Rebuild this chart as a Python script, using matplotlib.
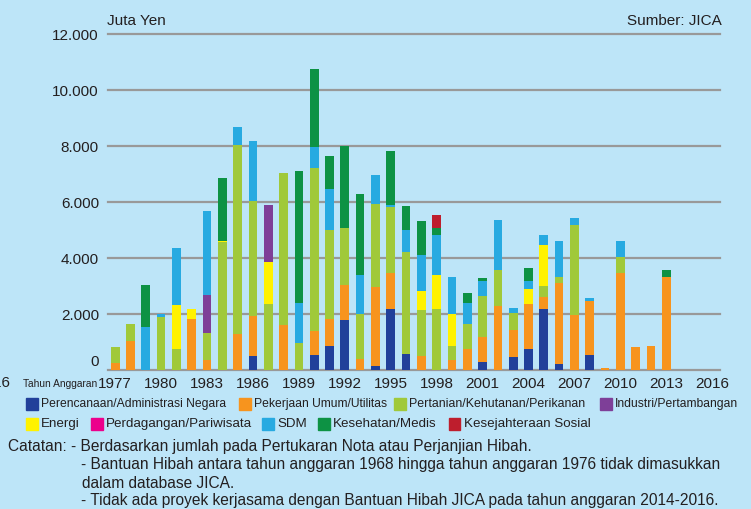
import numpy as np
import matplotlib
matplotlib.use('Agg')
from matplotlib import pyplot as plt
from matplotlib.patches import Rectangle
import matplotlib.transforms as mtransforms

plt.rcParams['font.family'] = ['Liberation Sans', 'DejaVu Sans']

years = list(range(1977, 2017))

# juta yen per sektor, 1977..2016
perencanaan = [0, 0, 0, 0, 0, 0, 0, 0, 0, 500, 0, 0, 0, 550, 870, 1800, 0, 140, 2190, 580,
               0, 0, 0, 0, 300, 0, 460, 750, 2190, 230, 0, 550, 0, 0, 0, 0, 0, 0, 0, 0]
pekerjaan = [240, 1040, 0, 0, 0, 1810, 345, 0, 1270, 1420, 0, 1600, 0, 840, 960, 1250, 380, 2830, 1260, 0,
             500, 0, 345, 740, 890, 2270, 980, 1620, 420, 2890, 1950, 1920, 70, 3480, 830, 870, 3330, 0, 0, 0]
pertanian = [590, 615, 0, 1880, 750, 0, 990, 4560, 6760, 4130, 2370, 5450, 960, 5830, 3170, 2020, 1630, 2950, 2370, 3640,
             1660, 2190, 520, 900, 1460, 1310, 610, 0, 400, 210, 3240, 0, 0, 550, 0, 0, 0, 0, 0, 0]
energi = [0, 0, 0, 0, 1580, 360, 0, 60, 0, 0, 1490, 0, 0, 0, 0, 0, 0, 0, 0, 0,
          650, 1210, 1140, 0, 0, 0, 0, 510, 1450, 0, 0, 0, 0, 0, 0, 0, 0, 0, 0, 0]
industri = [0, 0, 0, 0, 0, 0, 1360, 0, 0, 0, 2020, 0, 0, 0, 0, 0, 0, 0, 0, 0,
            0, 0, 0, 0, 0, 0, 0, 0, 0, 0, 0, 0, 0, 0, 0, 0, 0, 0, 0, 0]
perdagangan = [0] * 40
sdm = [0, 0, 1520, 130, 2020, 0, 3000, 0, 640, 2140, 0, 0, 1440, 730, 1460, 0, 1370, 1050, 60, 770,
       1300, 1430, 1330, 770, 520, 1770, 150, 310, 370, 1260, 250, 110, 0, 570, 0, 0, 0, 0, 0, 0]
kesehatan = [0, 0, 1500, 0, 0, 0, 0, 2240, 0, 0, 0, 0, 4690, 2790, 1170, 2920, 2900, 0, 1940, 850,
             1210, 240, 0, 350, 120, 0, 0, 440, 0, 0, 0, 0, 0, 0, 0, 0, 240, 0, 0, 0]
kesejahteraan = [0, 0, 0, 0, 0, 0, 0, 0, 0, 0, 0, 0, 0, 0, 0, 0, 0, 0, 0, 0,
                 0, 460, 0, 0, 0, 0, 0, 0, 0, 0, 0, 0, 0, 0, 0, 0, 0, 0, 0, 0]

labels = {
    'perencanaan': 'Perencanaan/Administrasi Negara',
    'pekerjaan': 'Pekerjaan Umum/Utilitas',
    'pertanian': 'Pertanian/Kehutanan/Perikanan',
    'industri': 'Industri/Pertambangan',
    'energi': 'Energi',
    'perdagangan': 'Perdagangan/Pariwisata',
    'sdm': 'SDM',
    'kesehatan': 'Kesehatan/Medis',
    'kesejahteraan': 'Kesejahteraan Sosial',
}
colors = {
    'perencanaan': '#21409A',
    'pekerjaan': '#F7941E',
    'pertanian': '#A0C93A',
    'industri': '#7E3F98',
    'energi': '#FFF200',
    'perdagangan': '#EC008C',
    'sdm': '#27AAE1',
    'kesehatan': '#0D9244',
    'kesejahteraan': '#BE1E2D',
}
series = {
    'perencanaan': perencanaan, 'pekerjaan': pekerjaan, 'pertanian': pertanian,
    'energi': energi, 'industri': industri, 'perdagangan': perdagangan,
    'sdm': sdm, 'kesehatan': kesehatan, 'kesejahteraan': kesejahteraan,
}

bg = '#BDE5F8'
txt = '#231F20'
W, H = 751, 509

fig = plt.figure(figsize=(7.51, 5.09), dpi=100, facecolor=bg)
ax = fig.add_axes([108 / W, (H - 370) / H, 612 / W, 336 / H])
ax.set_facecolor(bg)

# stacked bars (stack order as in the original)
bottom = np.zeros(len(years))
for key in ['perencanaan', 'pekerjaan', 'pertanian', 'energi', 'industri',
            'perdagangan', 'sdm', 'kesehatan', 'kesejahteraan']:
    vals = np.array(series[key], dtype=float)
    ax.bar(years, vals, width=0.57, bottom=bottom, color=colors[key], zorder=3)
    bottom += vals

ax.set_xlim(1976.53, 2016.51)
ax.set_ylim(0, 12000)
for s in ax.spines.values():
    s.set_visible(False)

ax.set_yticks(range(0, 12001, 2000))
ax.set_yticklabels(['0', '2.000', '4.000', '6.000', '8.000', '10.000', '12.000'])
ax.yaxis.grid(True, color='#999999', lw=1.6, zorder=0)
for gl in ax.get_ygridlines():
    gl.set_clip_on(False)
ax.tick_params(axis='y', length=0, pad=6.5, labelsize=11, labelcolor=txt)
# the "0" sits a little above the baseline
zero = ax.get_yticklabels()[0]
zero.set_transform(zero.get_transform() + mtransforms.ScaledTranslation(0, 10 / 100, fig.dpi_scale_trans))

ax.set_xticks(range(1977, 2017, 3))
ax.tick_params(axis='x', length=0, pad=5, labelsize=11, labelcolor=txt)

fig.text(107 / W, 1 - 21 / H, 'Juta Yen', fontsize=11, color=txt, va='center')
fig.text(722 / W, 1 - 21 / H, 'Sumber: JICA', fontsize=11, color=txt, va='center', ha='right')
fig.text(23 / W, 1 - 384 / H, 'Tahun Anggaran', fontsize=7.3, color=txt, va='center')
fig.text(10 / W, 1 - 383 / H, '2016', fontsize=11, color=txt, va='center', ha='right')

# legend, placed by hand: (key, x, y, fontsize)
legend_items = [
    ('perencanaan', 26, 404, 8.7), ('pekerjaan', 239, 404, 8.7), ('pertanian', 394, 404, 8.9),
    ('industri', 600, 404, 8.7),
    ('energi', 26, 424, 9.6), ('perdagangan', 91, 424, 9.6), ('sdm', 262, 424, 9.6),
    ('kesehatan', 318, 424, 9.6), ('kesejahteraan', 449, 424, 9.6),
]
sq = 11.5
for key, x, y, fs in legend_items:
    fig.add_artist(Rectangle((x / W, 1 - (y + sq / 2) / H), sq / W, sq / H,
                             transform=fig.transFigure, color=colors[key]))
    fig.text((x + sq + 3.5) / W, 1 - y / H, labels[key], fontsize=fs, color=txt, va='center')

notes = [
    (8, 447, 'Catatan: - Berdasarkan jumlah pada Pertukaran Nota atau Perjanjian Hibah.'),
    (81, 465, '- Bantuan Hibah antara tahun anggaran 1968 hingga tahun anggaran 1976 tidak dimasukkan'),
    (82, 483, 'dalam database JICA.'),
    (81, 501, '- Tidak ada proyek kerjasama dengan Bantuan Hibah JICA pada tahun anggaran 2014-2016.'),
]
for x, y, s in notes:
    fig.text(x / W, 1 - y / H, s, fontsize=11.2, color=txt, va='center')

fig.savefig('out.png', dpi=100, facecolor=bg)
